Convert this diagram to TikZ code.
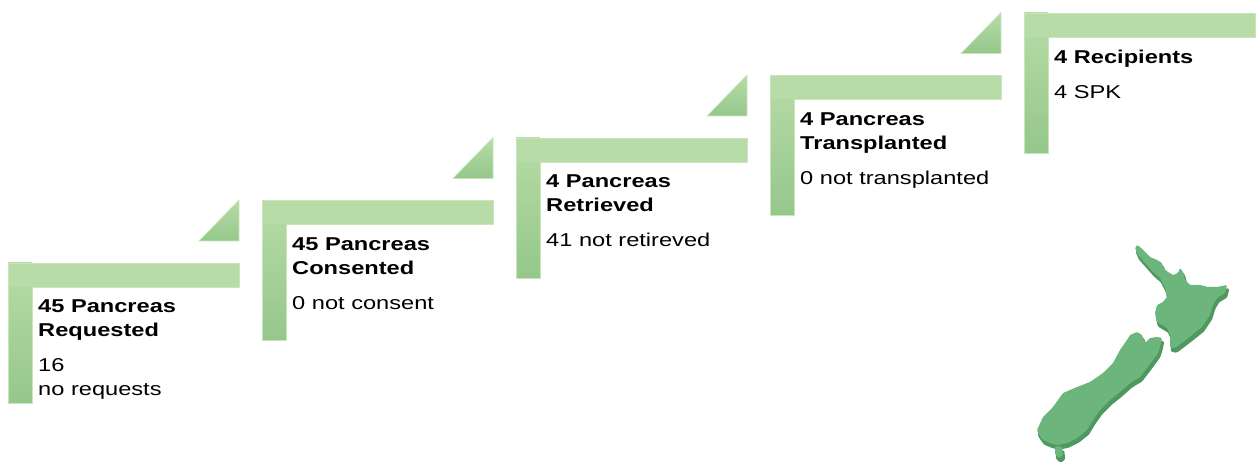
\documentclass[tikz,border=0pt]{standalone}
\usepackage{fontspec}
\setmainfont[FakeStretch=1.27]{Liberation Sans}
\usetikzlibrary{positioning}

\definecolor{barlight}{HTML}{B7DCA7}
\definecolor{bardark}{HTML}{95C78B}
\definecolor{baredge}{HTML}{C8E5BC}
\definecolor{islandgreen}{HTML}{6CB67D}
\definecolor{islanddark}{HTML}{4F9860}

\begin{document}
\begin{tikzpicture}[
x=1pt, y=-1pt,
barstyle/.style={fill=barlight},
poststyle/.style={top color=barlight, bottom color=bardark},
edgestyle/.style={draw=baredge, line width=0.8pt},
wedgestyle/.style={top color=barlight, bottom color=bardark, draw=baredge, line width=0.6pt},
steptext/.style={anchor=north west, inner sep=0pt, align=left, font=\fontsize{18.6}{24}\selectfont},
islandshade/.style={fill=islanddark, draw=islanddark, line width=1.5pt, rounded corners=1pt},
islandface/.style={fill=islandgreen, rounded corners=1pt}]
\useasboundingbox (0,0) rectangle (1256,462);
% Step corners
\coordinate (s1) at (8,263);
\coordinate (s2) at (262,200.5);
\coordinate (s3) at (516,138);
\coordinate (s4) at (770,75.5);
\coordinate (s5) at (1024,13);
% Steps
\fill[poststyle] (s1) rectangle ++(24,140);
\fill[barstyle] (s1) rectangle ++(231,24);
\draw[edgestyle] (s1) -- ++(231,0) -- ++(0,24) -- ++(-207,0) -- ++(0,116) -- ++(-24,0) -- cycle;
\draw[wedgestyle] ([shift={(191,-22)}]s1) -- ++(40,0) -- ++(0,-41) -- cycle;
\fill[poststyle] (s2) rectangle ++(24,140);
\fill[barstyle] (s2) rectangle ++(231,24);
\draw[edgestyle] (s2) -- ++(231,0) -- ++(0,24) -- ++(-207,0) -- ++(0,116) -- ++(-24,0) -- cycle;
\draw[wedgestyle] ([shift={(191,-22)}]s2) -- ++(40,0) -- ++(0,-41) -- cycle;
\fill[poststyle] (s3) rectangle ++(24,140);
\fill[barstyle] (s3) rectangle ++(231,24);
\draw[edgestyle] (s3) -- ++(231,0) -- ++(0,24) -- ++(-207,0) -- ++(0,116) -- ++(-24,0) -- cycle;
\draw[wedgestyle] ([shift={(191,-22)}]s3) -- ++(40,0) -- ++(0,-41) -- cycle;
\fill[poststyle] (s4) rectangle ++(24,140);
\fill[barstyle] (s4) rectangle ++(231,24);
\draw[edgestyle] (s4) -- ++(231,0) -- ++(0,24) -- ++(-207,0) -- ++(0,116) -- ++(-24,0) -- cycle;
\draw[wedgestyle] ([shift={(191,-22)}]s4) -- ++(40,0) -- ++(0,-41) -- cycle;
\fill[poststyle] (s5) rectangle ++(24,140);
\fill[barstyle] (s5) rectangle ++(231,24);
\draw[edgestyle] (s5) -- ++(231,0) -- ++(0,24) -- ++(-207,0) -- ++(0,116) -- ++(-24,0) -- cycle;
% Labels
\node[steptext] (requested) at ([shift={(30,36.7)}]s1)
  {\textbf{45 Pancreas}\\\textbf{Requested}\\[11pt]16\\no requests};
\node[steptext] (consented) at ([shift={(30,36.7)}]s2)
  {\textbf{45 Pancreas}\\\textbf{Consented}\\[11pt]0 not consent};
\node[steptext] (retrieved) at ([shift={(30,36.7)}]s3)
  {\textbf{4 Pancreas}\\\textbf{Retrieved}\\[11pt]41 not retireved};
\node[steptext] (transplanted) at ([shift={(30,36.7)}]s4)
  {\textbf{4 Pancreas}\\\textbf{Transplanted}\\[11pt]0 not transplanted};
\node[steptext] (recipients) at ([shift={(30,36.7)}]s5)
  {\textbf{4 Recipients}\\[11pt]4 SPK};
% Map
\begin{scope}[shift={(1.5,4)}]
\filldraw[islandshade] (1135,248) -- (1137,245) -- (1140,247) -- (1145,252) -- (1150,257) -- (1157,260) -- (1162,263) -- (1163,268) -- (1168,272) -- (1173,275) -- (1178,273) -- (1180,268) -- (1183,272) -- (1185,280) -- (1190,285) -- (1200,285) -- (1208,287) -- (1217,287) -- (1227,285) -- (1225,293) -- (1217,298) -- (1213,305) -- (1210,315) -- (1208,318) -- (1202,327) -- (1192,335) -- (1183,342) -- (1175,348) -- (1170,347) -- (1170,335) -- (1167,328) -- (1157,322) -- (1155,313) -- (1157,305) -- (1163,302) -- (1167,297) -- (1165,288) -- (1160,278) -- (1153,272) -- (1145,263) -- (1138,255) -- cycle;
\filldraw[islandshade] (1130,335) -- (1137,332) -- (1142,335) -- (1145,343) -- (1150,338) -- (1157,337) -- (1162,338) -- (1160,347) -- (1158,353) -- (1153,360) -- (1147,368) -- (1140,377) -- (1130,383) -- (1120,392) -- (1110,400) -- (1100,410) -- (1093,420) -- (1087,430) -- (1077,438) -- (1067,443) -- (1057,445) -- (1050,443) -- (1043,440) -- (1038,433) -- (1037,430) -- (1043,417) -- (1053,407) -- (1063,393) -- (1077,387) -- (1090,382) -- (1103,373) -- (1113,363) -- (1120,350) -- (1127,340) -- cycle;
\filldraw[islandshade] (1055,446) -- (1062,447) -- (1063,455) -- (1059,458) -- (1055,454) -- cycle;
\end{scope}
\fill[islandface] (1135,248) -- (1137,245) -- (1140,247) -- (1145,252) -- (1150,257) -- (1157,260) -- (1162,263) -- (1163,268) -- (1168,272) -- (1173,275) -- (1178,273) -- (1180,268) -- (1183,272) -- (1185,280) -- (1190,285) -- (1200,285) -- (1208,287) -- (1217,287) -- (1227,285) -- (1225,293) -- (1217,298) -- (1213,305) -- (1210,315) -- (1208,318) -- (1202,327) -- (1192,335) -- (1183,342) -- (1175,348) -- (1170,347) -- (1170,335) -- (1167,328) -- (1157,322) -- (1155,313) -- (1157,305) -- (1163,302) -- (1167,297) -- (1165,288) -- (1160,278) -- (1153,272) -- (1145,263) -- (1138,255) -- cycle;
\fill[islandface] (1130,335) -- (1137,332) -- (1142,335) -- (1145,343) -- (1150,338) -- (1157,337) -- (1162,338) -- (1160,347) -- (1158,353) -- (1153,360) -- (1147,368) -- (1140,377) -- (1130,383) -- (1120,392) -- (1110,400) -- (1100,410) -- (1093,420) -- (1087,430) -- (1077,438) -- (1067,443) -- (1057,445) -- (1050,443) -- (1043,440) -- (1038,433) -- (1037,430) -- (1043,417) -- (1053,407) -- (1063,393) -- (1077,387) -- (1090,382) -- (1103,373) -- (1113,363) -- (1120,350) -- (1127,340) -- cycle;
\fill[islandface] (1055,446) -- (1062,447) -- (1063,455) -- (1059,458) -- (1055,454) -- cycle;
\end{tikzpicture}
\end{document}
